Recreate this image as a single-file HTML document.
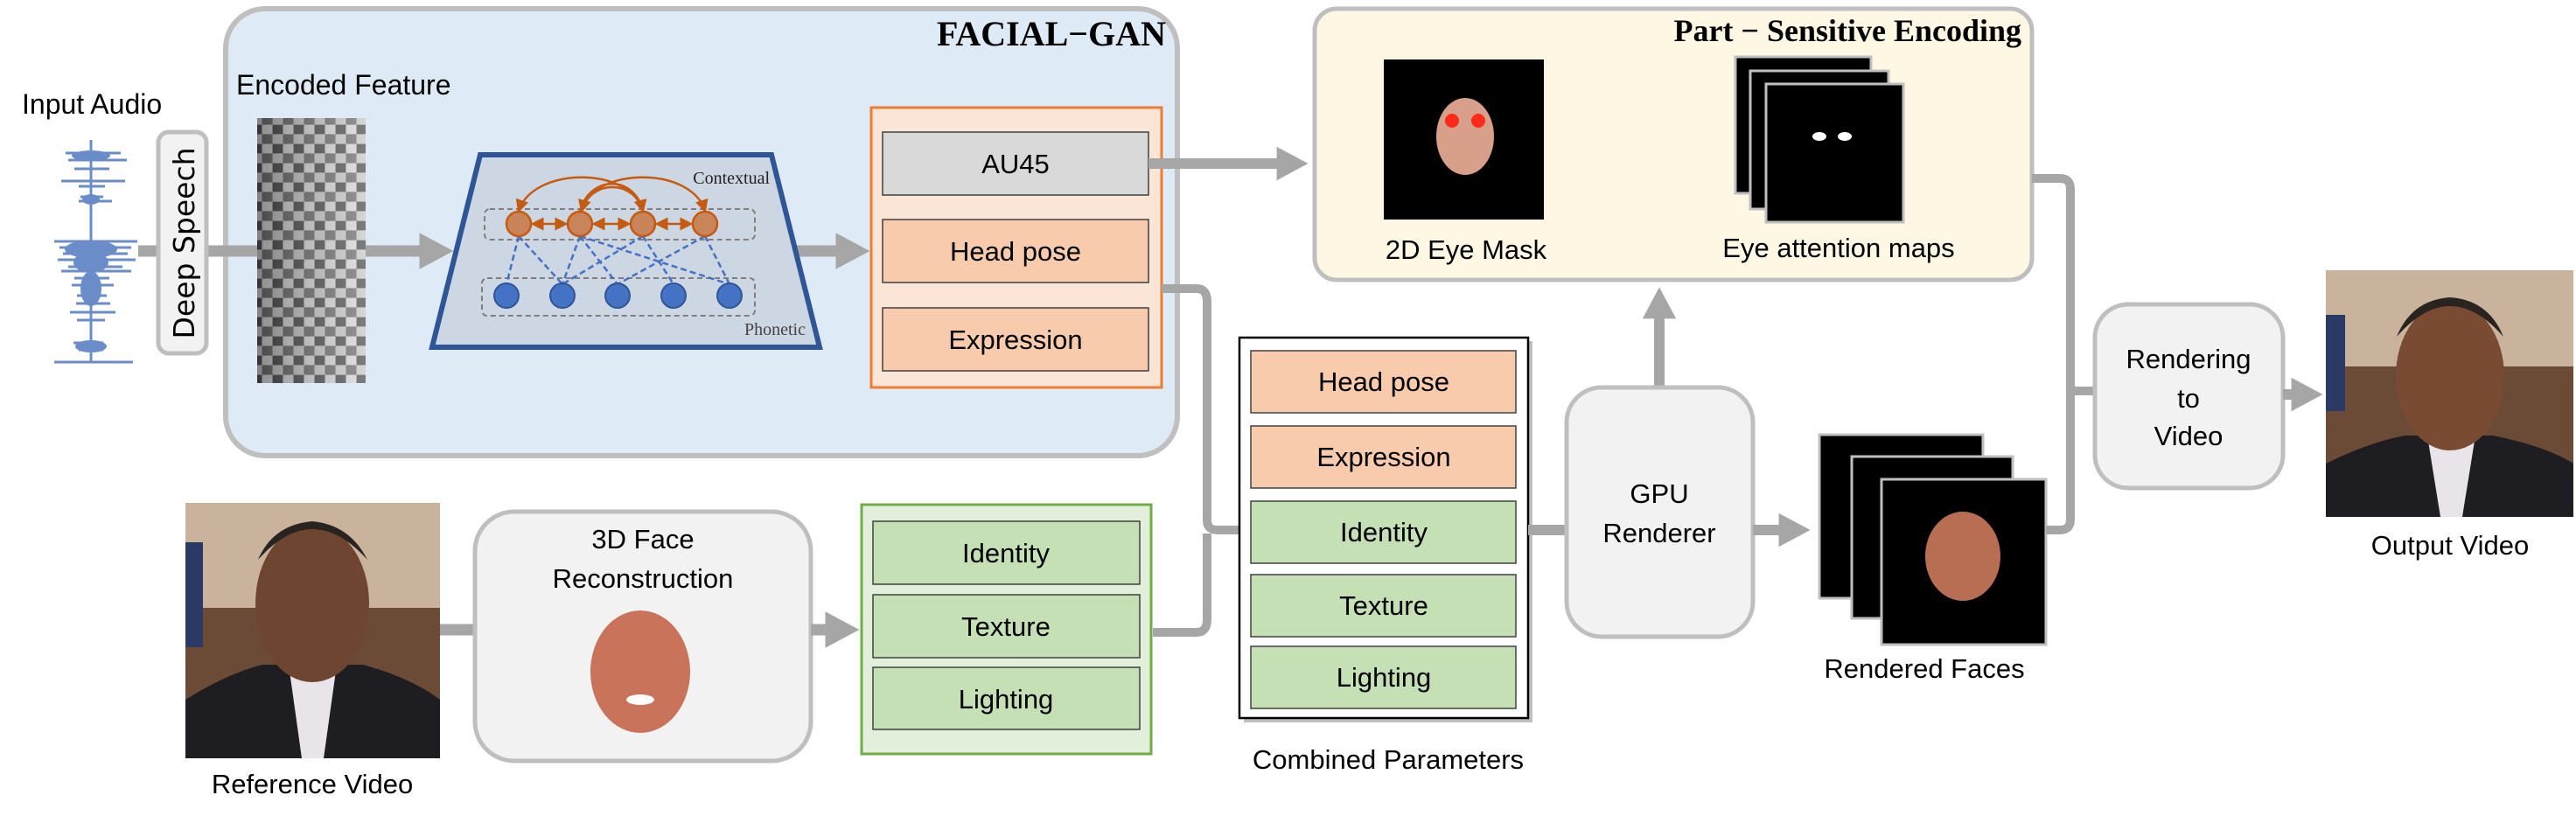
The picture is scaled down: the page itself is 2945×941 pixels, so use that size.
<!DOCTYPE html>
<html><head><meta charset="utf-8"><style>
html,body{margin:0;padding:0;background:#fff;}
svg{display:block;}
text{font-family:"Liberation Sans",sans-serif;fill:#000;}
.t{font-size:31px;text-anchor:middle;}
.ser{font-family:"Liberation Serif",serif;}
</style></head><body>
<svg width="2945" height="941" viewBox="0 0 2945 941" xmlns="http://www.w3.org/2000/svg">
<defs>
<marker id="ah" markerWidth="3.2" markerHeight="3.2" refX="0.2" refY="1.6" orient="auto" markerUnits="strokeWidth">
<path d="M0,0 L3,1.6 L0,3.2 Z" fill="#a6a6a6"/></marker>
<marker id="oa" markerWidth="6" markerHeight="6" refX="5" refY="3" orient="auto" markerUnits="strokeWidth">
<path d="M0,0 L6,3 L0,6 Z" fill="#c55a11"/></marker>
<marker id="oas" markerWidth="6" markerHeight="6" refX="1" refY="3" orient="auto" markerUnits="strokeWidth">
<path d="M6,0 L0,3 L6,6 Z" fill="#c55a11"/></marker>
<pattern id="feat" width="24" height="22" patternUnits="userSpaceOnUse">
<rect width="24" height="22" fill="#9a9a9a"/>
<rect x="0" y="0" width="11" height="10" fill="#c8c8c8"/>
<rect x="12" y="0" width="11" height="10" fill="#6e6e6e"/>
<rect x="0" y="11" width="11" height="10" fill="#505050"/>
<rect x="12" y="11" width="11" height="10" fill="#d8d8d8"/>
</pattern>
<linearGradient id="fg" x1="0" x2="1"><stop offset="0" stop-color="#000" stop-opacity="0.35"/><stop offset="1" stop-color="#fff" stop-opacity="0.25"/></linearGradient>
</defs>

<!-- FACIAL-GAN box -->
<rect x="258" y="10" width="1088" height="511" rx="45" fill="#deeaf6" stroke="#bfbfbf" stroke-width="6"/>
<text x="1333" y="52" class="ser" style="font-size:40px;font-weight:bold;text-anchor:end;">FACIAL−GAN</text>

<!-- Input audio -->
<text x="25" y="130" style="font-size:32px;">Input Audio</text>
<g stroke="#6a8cc8" stroke-width="3">
<line x1="104" y1="160" x2="104" y2="415"/>
<line x1="75" y1="175" x2="138" y2="175"/><line x1="78" y1="183" x2="145" y2="183"/><line x1="85" y1="193" x2="125" y2="193"/>
<line x1="70" y1="207" x2="143" y2="207"/><line x1="90" y1="213" x2="120" y2="213"/><line x1="92" y1="225" x2="118" y2="225"/><line x1="90" y1="230" x2="128" y2="230"/>
<line x1="62" y1="276" x2="157" y2="276"/><line x1="68" y1="283" x2="150" y2="283"/><line x1="72" y1="290" x2="146" y2="290"/><line x1="66" y1="297" x2="155" y2="297"/>
<line x1="78" y1="305" x2="140" y2="305"/><line x1="70" y1="310" x2="150" y2="310"/><line x1="85" y1="318" x2="125" y2="318"/><line x1="82" y1="326" x2="130" y2="326"/>
<line x1="88" y1="338" x2="122" y2="338"/><line x1="87" y1="347" x2="126" y2="347"/><line x1="80" y1="357" x2="132" y2="357"/><line x1="88" y1="366" x2="120" y2="366"/>
<line x1="84" y1="392" x2="118" y2="392"/><line x1="90" y1="400" x2="118" y2="400"/><line x1="62" y1="414" x2="152" y2="414"/>
</g>
<g fill="#6a8cc8"><ellipse cx="104" cy="178" rx="22" ry="6"/><ellipse cx="104" cy="285" rx="30" ry="10"/><ellipse cx="104" cy="300" rx="20" ry="12"/><ellipse cx="104" cy="330" rx="12" ry="20"/><ellipse cx="104" cy="396" rx="18" ry="7"/><ellipse cx="104" cy="228" rx="10" ry="6"/></g>

<!-- main horizontal connectors -->
<line x1="158" y1="287" x2="182" y2="287" stroke="#a6a6a6" stroke-width="13"/>
<line x1="237" y1="287" x2="300" y2="287" stroke="#a6a6a6" stroke-width="13"/>
<line x1="415" y1="287" x2="482" y2="287" stroke="#a6a6a6" stroke-width="13" marker-end="url(#ah)"/>
<line x1="900" y1="287" x2="958" y2="287" stroke="#a6a6a6" stroke-width="13" marker-end="url(#ah)"/>

<!-- Deep Speech -->
<rect x="181" y="151" width="55" height="253" rx="12" fill="#f2f2f2" stroke="#bfbfbf" stroke-width="5"/>
<text transform="translate(222,278) rotate(-90)" style="font-size:33px;text-anchor:middle;font-family:'DejaVu Sans','Liberation Sans',sans-serif;">Deep Speech</text>

<!-- Encoded feature -->
<text x="270" y="108" style="font-size:32px;">Encoded Feature</text>
<rect x="294" y="135" width="124" height="303" fill="url(#feat)"/>
<rect x="294" y="135" width="124" height="303" fill="url(#fg)"/>

<!-- Trapezoid -->
<path d="M549,177 L882,177 L937,397 L494,397 Z" fill="#cdd6e3" stroke="#2f5597" stroke-width="6"/>
<rect x="554" y="239" width="309" height="35" rx="6" fill="none" stroke="#7f7f7f" stroke-width="2" stroke-dasharray="6,4"/>
<rect x="551" y="318" width="312" height="43" rx="6" fill="none" stroke="#7f7f7f" stroke-width="2" stroke-dasharray="6,4"/>
<text x="880" y="210" class="ser" style="font-size:20px;text-anchor:end;fill:#222;">Contextual</text>
<text x="921" y="383" class="ser" style="font-size:20px;text-anchor:end;fill:#444;">Phonetic</text>
<g stroke="#4472c4" stroke-width="2.5" stroke-dasharray="7,4" fill="none">
<line x1="593" y1="270" x2="579" y2="325"/><line x1="593" y1="270" x2="643" y2="325"/>
<line x1="663" y1="270" x2="643" y2="325"/><line x1="663" y1="270" x2="706" y2="325"/><line x1="663" y1="270" x2="834" y2="325"/>
<line x1="735" y1="270" x2="643" y2="325"/><line x1="735" y1="270" x2="770" y2="325"/>
<line x1="806" y1="270" x2="706" y2="325"/><line x1="806" y1="270" x2="834" y2="325"/>
</g>
<g stroke="#c55a11" stroke-width="2.5" fill="none">
<path d="M735,241 C720,190 610,190 593,241" marker-end="url(#oa)"/>
<path d="M663,241 C680,190 790,190 806,241" marker-end="url(#oa)"/>
<path d="M663,241 C675,200 725,200 735,241" marker-end="url(#oa)"/>
<path d="M735,241 C725,205 675,205 665,241" marker-end="url(#oa)"/>
<line x1="609" y1="256" x2="647" y2="256" marker-end="url(#oa)" marker-start="url(#oas)"/>
<line x1="679" y1="256" x2="719" y2="256" marker-end="url(#oa)" marker-start="url(#oas)"/>
<line x1="751" y1="256" x2="790" y2="256" marker-end="url(#oa)" marker-start="url(#oas)"/>
</g>
<g fill="#c9845a" stroke="#c55a11" stroke-width="2.5">
<circle cx="593" cy="256" r="14"/><circle cx="663" cy="256" r="14"/><circle cx="735" cy="256" r="14"/><circle cx="806" cy="256" r="14"/></g>
<g fill="#4472c4" stroke="#2f5597" stroke-width="2">
<circle cx="579" cy="338" r="14"/><circle cx="643" cy="338" r="14"/><circle cx="706" cy="338" r="14"/><circle cx="770" cy="338" r="14"/><circle cx="834" cy="338" r="14"/></g>

<!-- Orange param box -->
<rect x="996" y="123" width="332" height="320" fill="#fbe5d6" stroke="#ed7d31" stroke-width="3"/>
<rect x="1009" y="151" width="304" height="72" fill="#d9d9d9" stroke="#404040" stroke-width="1.5"/>
<text x="1161" y="198" class="t">AU45</text>
<rect x="1009" y="251" width="304" height="72" fill="#f8cbad" stroke="#404040" stroke-width="1.5"/>
<text x="1161" y="298" class="t">Head pose</text>
<rect x="1009" y="352" width="304" height="72" fill="#f8cbad" stroke="#404040" stroke-width="1.5"/>
<text x="1161" y="399" class="t">Expression</text>

<!-- AU45 -> part sensitive -->
<line x1="1313" y1="187" x2="1462" y2="187" stroke="#a6a6a6" stroke-width="12" marker-end="url(#ah)"/>

<!-- Part-Sensitive box -->
<rect x="1503" y="10" width="820" height="310" rx="25" fill="#fef7e4" stroke="#bfbfbf" stroke-width="5"/>
<text x="2311" y="47" class="ser" style="font-size:36px;font-weight:bold;text-anchor:end;">Part − Sensitive Encoding</text>
<rect x="1582" y="68" width="183" height="183" fill="#000"/>
<ellipse cx="1675" cy="156" rx="33" ry="44" fill="#d8a08a"/>
<circle cx="1660" cy="138" r="8" fill="#ff2a1a"/><circle cx="1690" cy="138" r="8" fill="#ff2a1a"/>
<text x="1676" y="296" class="t">2D Eye Mask</text>
<rect x="1984" y="65" width="155" height="156" fill="#000" stroke="#bfbfbf" stroke-width="3"/>
<rect x="2001" y="81" width="158" height="158" fill="#000" stroke="#bfbfbf" stroke-width="3"/>
<rect x="2019" y="96" width="157" height="158" fill="#000" stroke="#bfbfbf" stroke-width="3"/>
<ellipse cx="2080" cy="156" rx="8" ry="5" fill="#fff"/><ellipse cx="2109" cy="156" rx="8" ry="5" fill="#fff"/>
<text x="2102" y="294" class="t">Eye attention maps</text>

<!-- Bottom-left -->
<rect x="212" y="575" width="291" height="292" fill="#6b4a36"/>
<rect x="212" y="575" width="291" height="120" fill="#c9b39c"/>
<rect x="212" y="620" width="20" height="120" fill="#2b3a64"/>
<path d="M212,867 L212,800 Q260,770 300,760 L415,760 Q470,775 503,800 L503,867 Z" fill="#1e1e22"/>
<path d="M330,760 L385,760 L370,867 L345,867 Z" fill="#e8e4ea"/>
<ellipse cx="357" cy="690" rx="65" ry="90" fill="#6e4530"/>
<path d="M295,640 Q357,570 420,640 Q400,600 357,596 Q312,600 295,640Z" fill="#2a2420"/>
<text x="357" y="907" class="t">Reference Video</text>

<line x1="503" y1="720" x2="545" y2="720" stroke="#a6a6a6" stroke-width="13"/>
<rect x="543" y="585" width="384" height="285" rx="45" fill="#f2f2f2" stroke="#bfbfbf" stroke-width="5"/>
<text x="735" y="627" class="t">3D Face</text>
<text x="735" y="672" class="t">Reconstruction</text>
<ellipse cx="732" cy="768" rx="57" ry="70" fill="#c8735a"/>
<ellipse cx="732" cy="800" rx="16" ry="6" fill="#fff"/>
<line x1="927" y1="720" x2="946" y2="720" stroke="#a6a6a6" stroke-width="13" marker-end="url(#ah)"/>

<!-- Green box -->
<rect x="985" y="577" width="331" height="285" fill="#e2efda" stroke="#70ad47" stroke-width="3"/>
<rect x="998" y="596" width="305" height="72" fill="#c5e0b4" stroke="#404040" stroke-width="1.5"/>
<text x="1150" y="643" class="t">Identity</text>
<rect x="998" y="680" width="305" height="72" fill="#c5e0b4" stroke="#404040" stroke-width="1.5"/>
<text x="1150" y="727" class="t">Texture</text>
<rect x="998" y="763" width="305" height="71" fill="#c5e0b4" stroke="#404040" stroke-width="1.5"/>
<text x="1150" y="810" class="t">Lighting</text>

<!-- connectors into combined -->
<path d="M1328,330 L1368,330 Q1380,330 1380,345 L1380,595 Q1380,606 1392,606 L1420,606" fill="none" stroke="#a6a6a6" stroke-width="10"/>
<path d="M1318,723 L1368,723 Q1380,723 1380,708 L1380,610" fill="none" stroke="#a6a6a6" stroke-width="10"/>

<!-- Combined -->
<rect x="1422" y="390" width="330" height="436" fill="#000" opacity="0.25"/>
<rect x="1417" y="386" width="330" height="435" fill="#fff" stroke="#000" stroke-width="2.5"/>
<rect x="1430" y="401" width="303" height="71" fill="#f8cbad" stroke="#404040" stroke-width="1.5"/>
<text x="1582" y="447" class="t">Head pose</text>
<rect x="1430" y="487" width="303" height="71" fill="#f8cbad" stroke="#404040" stroke-width="1.5"/>
<text x="1582" y="533" class="t">Expression</text>
<rect x="1430" y="573" width="303" height="71" fill="#c5e0b4" stroke="#404040" stroke-width="1.5"/>
<text x="1582" y="619" class="t">Identity</text>
<rect x="1430" y="657" width="303" height="71" fill="#c5e0b4" stroke="#404040" stroke-width="1.5"/>
<text x="1582" y="703" class="t">Texture</text>
<rect x="1430" y="739" width="303" height="71" fill="#c5e0b4" stroke="#404040" stroke-width="1.5"/>
<text x="1582" y="785" class="t">Lighting</text>
<text x="1587" y="879" class="t">Combined Parameters</text>

<!-- GPU -->
<line x1="1747" y1="606" x2="1792" y2="606" stroke="#a6a6a6" stroke-width="12"/>
<line x1="1897" y1="443" x2="1897" y2="362" stroke="#a6a6a6" stroke-width="12" marker-end="url(#ah)"/>
<rect x="1791" y="443" width="213" height="285" rx="40" fill="#f2f2f2" stroke="#bfbfbf" stroke-width="5"/>
<text x="1897" y="575" class="t">GPU</text>
<text x="1897" y="620" class="t">Renderer</text>
<line x1="2004" y1="606" x2="2036" y2="606" stroke="#a6a6a6" stroke-width="12" marker-end="url(#ah)"/>

<!-- Rendered faces -->
<rect x="2080" y="497" width="187" height="187" fill="#000" stroke="#bfbfbf" stroke-width="3"/>
<rect x="2117" y="522" width="184" height="185" fill="#000" stroke="#bfbfbf" stroke-width="3"/>
<rect x="2151" y="548" width="188" height="189" fill="#000" stroke="#bfbfbf" stroke-width="3"/>
<ellipse cx="2244" cy="636" rx="43" ry="51" fill="#b86e52"/>
<text x="2200" y="775" class="t">Rendered Faces</text>

<!-- Into Rendering -->
<path d="M2323,204 L2355,204 Q2367,204 2367,216 L2367,447 L2397,447" fill="none" stroke="#a6a6a6" stroke-width="10"/>
<path d="M2339,606 L2355,606 Q2367,606 2367,594 L2367,450" fill="none" stroke="#a6a6a6" stroke-width="10"/>
<rect x="2395" y="348" width="215" height="210" rx="38" fill="#f2f2f2" stroke="#bfbfbf" stroke-width="5"/>
<text x="2502" y="421" class="t">Rendering</text>
<text x="2502" y="466" class="t">to</text>
<text x="2502" y="509" class="t">Video</text>
<line x1="2610" y1="451" x2="2622" y2="451" stroke="#a6a6a6" stroke-width="12" marker-end="url(#ah)"/>

<!-- Output photo -->
<rect x="2659" y="309" width="283" height="282" fill="#6b4a36"/>
<rect x="2659" y="309" width="283" height="110" fill="#c9b39c"/>
<rect x="2659" y="360" width="22" height="110" fill="#2b3a64"/>
<path d="M2659,591 L2659,530 Q2710,505 2750,498 L2850,498 Q2910,510 2942,530 L2942,591 Z" fill="#1e1e22"/>
<path d="M2775,498 L2830,498 L2815,591 L2790,591 Z" fill="#e8e4ea"/>
<ellipse cx="2801" cy="430" rx="62" ry="85" fill="#7a4b33"/>
<path d="M2740,385 Q2801,315 2862,385 Q2845,343 2801,340 Q2757,343 2740,385Z" fill="#2a2420"/>
<text x="2801" y="634" class="t">Output Video</text>
</svg>
</body></html>
